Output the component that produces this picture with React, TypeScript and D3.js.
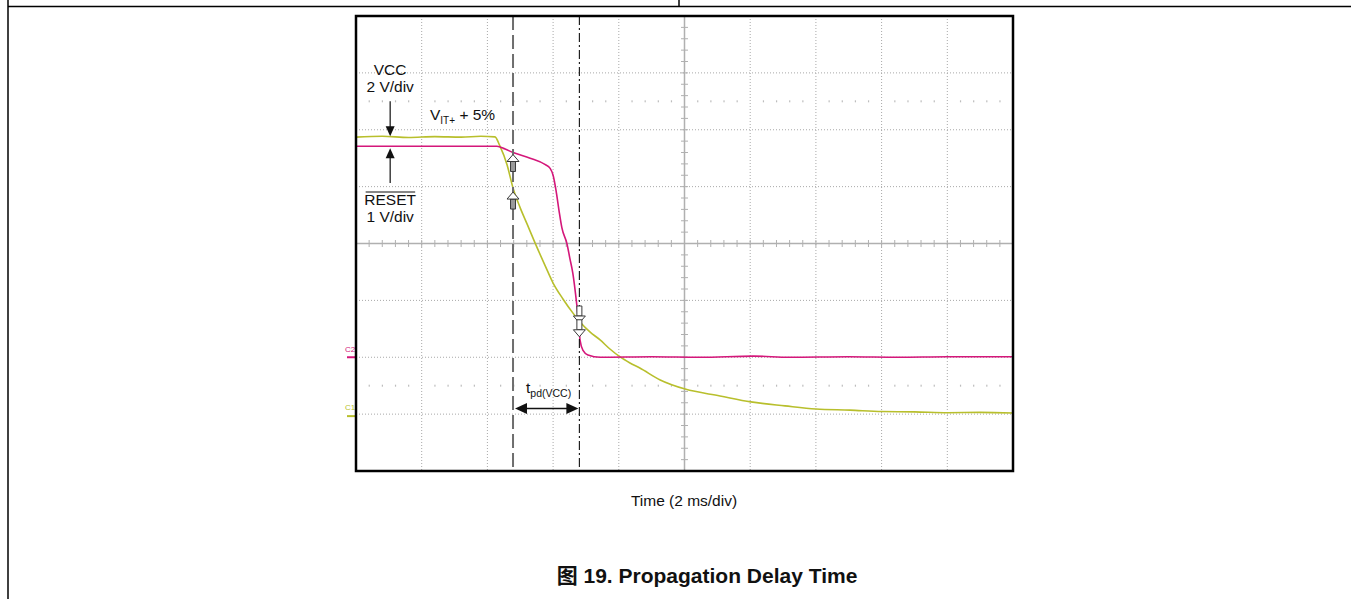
import * as d3 from "d3";

// time in ms (2 ms/div, 0 = screen centre), values in volts
const vccTime = [-10, -9.2, -8.4, -7.6, -6.8, -6.2, -5.77, -5.62, -5.40, -5.22, -5.01, -4.79, -4.55, -4.25, -4.00, -3.70, -3.40, -3.18, -2.88, -2.57, -2.27, -1.96, -1.66, -1.36, -0.74, 0.02, 1.08, 2.02, 3.06, 4.00, 5.04, 6.01, 7.0, 8.02, 9.0, 10.0];
const vccVolts = [9.74, 9.77, 9.73, 9.76, 9.74, 9.77, 9.75, 9.43, 8.76, 7.95, 7.28, 6.68, 6.02, 5.24, 4.61, 4.05, 3.56, 3.24, 2.89, 2.61, 2.29, 2.01, 1.80, 1.62, 1.20, 0.88, 0.64, 0.43, 0.29, 0.18, 0.14, 0.09, 0.08, 0.05, 0.06, 0.04];

const resetTime = [-10, -5.71, -5.46, -5.22, -4.70, -4.25, -4.09, -4.00, -3.91, -3.82, -3.73, -3.58, -3.49, -3.40, -3.27, -3.21, -3.18, -3.09, -2.94, -2.57, -1.0, 0.47, 2.1, 3.2, 5.0, 6.5, 8.0, 10];
const resetVolts = [3.71, 3.71, 3.66, 3.60, 3.50, 3.39, 3.32, 3.20, 2.93, 2.58, 2.27, 2.00, 1.74, 1.48, 0.88, 0.56, 0.30, 0.12, 0.04, 0.0, 0.01, 0.0, 0.02, 0.0, 0.01, 0.0, 0.01, 0.01];

// cursors: VCC crosses V_IT+ + 5%, RESET output switches
const cursorT = [-5.22, -3.20];

const xDivs = 10;
const yDivs = 8;
const vccScale = 2; // V/div
const resetScale = 1; // V/div
const vccGround = -3; // divisions from centre
const resetGround = -2;

const W = 1351;
const H = 599;
const plot = { left: 356, right: 1013, top: 16, bottom: 471 };
const font = "Arial, 'Liberation Sans', 'Noto Sans CJK SC', sans-serif";

const x = d3.scaleLinear().domain([-10, 10]).range([plot.left, plot.right]);
const xd = d3.scaleLinear().domain([0, xDivs]).range([plot.left, plot.right]);
const yd = d3.scaleLinear().domain([-yDivs / 2, yDivs / 2]).range([plot.bottom, plot.top]);
const yVcc = (v: number) => yd(vccGround + v / vccScale);
const yReset = (v: number) => yd(resetGround + v / resetScale);

const headUp = (cx: number, tip: number) => `M${cx},${tip} L${cx + 6},${tip + 7} L${cx - 6},${tip + 7} Z`;
const shaftUp = (cx: number, tip: number) => `M${cx + 2.5},${tip + 7} L${cx + 2.5},${tip + 17} L${cx - 2.5},${tip + 17} L${cx - 2.5},${tip + 7} Z`;
const headDown = (cx: number, tip: number) => `M${cx},${tip} L${cx + 6},${tip - 7} L${cx - 6},${tip - 7} Z`;
const shaftDown = (cx: number, tip: number) => `M${cx + 2.5},${tip - 7} L${cx + 2.5},${tip - 17} L${cx - 2.5},${tip - 17} L${cx - 2.5},${tip - 7} Z`;

export default function App() {
  const line = d3.line<[number, number]>().x(d => d[0]).y(d => d[1]).curve(d3.curveMonotoneX);
  const vccPath = line(vccTime.map((t, i) => [x(t), yVcc(vccVolts[i])])) || "";
  const resetPath = line(resetTime.map((t, i) => [x(t), yReset(resetVolts[i])])) || "";

  const minor = d3.range(0, xDivs * 5 + 1).map(i => i / 5);
  const minorY = d3.range(0, yDivs * 5 + 1).map(i => i / 5 - yDivs / 2);
  const cx = xd(xDivs / 2);
  const cy = yd(0);

  const labelX = x(-8.96);
  const c1 = cursorT[0];
  const c2 = cursorT[1];
  const arrowY = yd(-2.9);

  const upTips = [yReset(3.6) + 2, yVcc(7.95) + 4];
  const downTips = [yVcc(3.24) + 1, yReset(0.36)];

  return (
    <svg width={W} height={H} style={{ position: "absolute", left: 0, top: 0, background: "#fff" }} fontFamily={font}>
      {/* page table rules */}
      <line x1={8} y1={0} x2={8} y2={H} stroke="#000" strokeWidth={1.5} />
      <line x1={8} y1={6.5} x2={W} y2={6.5} stroke="#000" strokeWidth={1.5} />
      <line x1={679} y1={0} x2={679} y2={6.5} stroke="#000" strokeWidth={1.5} />

      {/* grid */}
      <g stroke="#a8a8a8" strokeWidth={1} strokeDasharray="1,2">
        {d3.range(1, xDivs).filter(k => k !== xDivs / 2).map(k => (
          <line key={"gx" + k} x1={xd(k)} x2={xd(k)} y1={plot.top} y2={plot.bottom} />
        ))}
        {d3.range(-yDivs / 2 + 1, yDivs / 2).filter(k => k !== 0).map(k => (
          <line key={"gy" + k} x1={plot.left} x2={plot.right} y1={yd(k)} y2={yd(k)} />
        ))}
      </g>
      {/* dot rows at +-2.5 div */}
      <g fill="#bdbdbd">
        {[2.5, -2.5].map(r =>
          minor.filter(m => Math.abs(m - Math.round(m)) > 0.01).map(m => (
            <rect key={r + "-" + m} x={xd(m) - 0.5} y={yd(r) - 1} width={1.2} height={2} />
          ))
        )}
      </g>
      {/* centre axes with minor ticks */}
      <g stroke="#b0b0b0" strokeWidth={1.5}>
        <line x1={cx} x2={cx} y1={plot.top} y2={plot.bottom} />
        <line x1={plot.left} x2={plot.right} y1={cy} y2={cy} />
        {minor.map(m => (
          <line key={"tx" + m} x1={xd(m)} x2={xd(m)} y1={cy - 3.5} y2={cy + 3.5} strokeWidth={1} />
        ))}
        {minorY.map(m => (
          <line key={"ty" + m} x1={cx - 3.5} x2={cx + 3.5} y1={yd(m)} y2={yd(m)} strokeWidth={1} />
        ))}
      </g>

      {/* traces */}
      <path d={vccPath} fill="none" stroke="#b8bf2c" strokeWidth={1.6} />
      <path d={resetPath} fill="none" stroke="#d4177a" strokeWidth={1.6} />

      {/* cursors */}
      <line x1={x(c1)} x2={x(c1)} y1={plot.top} y2={plot.bottom} stroke="#6e6e6e" strokeWidth={2} strokeDasharray="14,5" />
      <line x1={x(c2)} x2={x(c2)} y1={plot.top} y2={plot.bottom} stroke="#111" strokeWidth={1.1} strokeDasharray="9,3,2,3" />

      {/* hollow markers */}
      <g stroke="#3a3a3a" strokeWidth={1}>
        {upTips.map((t, i) => (
          <g key={"u" + i}>
            <path d={shaftUp(x(c1), t)} fill="#9a9a9a" />
            <path d={headUp(x(c1), t)} fill="#fff" />
          </g>
        ))}
        {downTips.map((t, i) => (
          <g key={"d" + i}>
            <path d={shaftDown(x(c2), t)} fill="#fff" />
            <path d={headDown(x(c2), t)} fill="#fff" />
          </g>
        ))}
      </g>

      {/* channel labels */}
      <g fontSize={15.5} fill="#111" textAnchor="middle">
        <text x={labelX} y={75}>VCC</text>
        <text x={labelX} y={92}>2 V/div</text>
        <text x={labelX} y={205}>RESET</text>
        <text x={labelX} y={222}>1 V/div</text>
      </g>
      <line x1={labelX - 24.5} x2={labelX + 25} y1={192} y2={192} stroke="#111" strokeWidth={1.2} />
      <line x1={labelX} x2={labelX} y1={yd(2.5)} y2={yVcc(9.74) - 10} stroke="#111" strokeWidth={1.2} />
      <path d={`M${labelX},${yVcc(9.74) - 1} l-4.5,-10 l9,0 Z`} fill="#111" />
      <line x1={labelX} x2={labelX} y1={183} y2={yReset(3.71) + 11} stroke="#111" strokeWidth={1.2} />
      <path d={`M${labelX},${yReset(3.71) + 2} l-4.5,10 l9,0 Z`} fill="#111" />

      <text x={430} y={120} fontSize={15.5} fill="#111">
        V<tspan fontSize={10} dy={4}>IT+</tspan><tspan dy={-4}> + 5%</tspan>
      </text>

      {/* propagation delay */}
      <text x={x(c1) + 13} y={393} fontSize={15.5} fill="#111">
        t<tspan fontSize={10.5} dy={4}>pd(VCC)</tspan>
      </text>
      <line x1={x(c1) + 10} x2={x(c2) - 10} y1={arrowY} y2={arrowY} stroke="#111" strokeWidth={1.4} />
      <path d={`M${x(c1) + 2},${arrowY} l12,-5.5 l0,11 Z`} fill="#111" />
      <path d={`M${x(c2) - 1},${arrowY} l-12,-5.5 l0,11 Z`} fill="#111" />

      {/* ground markers */}
      <text x={345} y={yReset(0) - 5} fontSize={8} fill="#d4177a">C2</text>
      <line x1={347} x2={plot.left} y1={yReset(0)} y2={yReset(0)} stroke="#d4177a" strokeWidth={2} />
      <text x={345} y={yVcc(0) - 4} fontSize={8} fill="#b8bf2c">C1</text>
      <line x1={347} x2={plot.left} y1={yVcc(0) + 2} y2={yVcc(0) + 2} stroke="#b8bf2c" strokeWidth={2} />

      {/* frame */}
      <rect x={plot.left} y={plot.top} width={plot.right - plot.left} height={plot.bottom - plot.top} fill="none" stroke="#000" strokeWidth={2.5} />

      <text x={684} y={506} fontSize={15.5} textAnchor="middle" fill="#111">Time (2 ms/div)</text>
      <text x={707} y={583} fontSize={21} fontWeight="bold" textAnchor="middle" fill="#111">图 19. Propagation Delay Time</text>
    </svg>
  );
}
